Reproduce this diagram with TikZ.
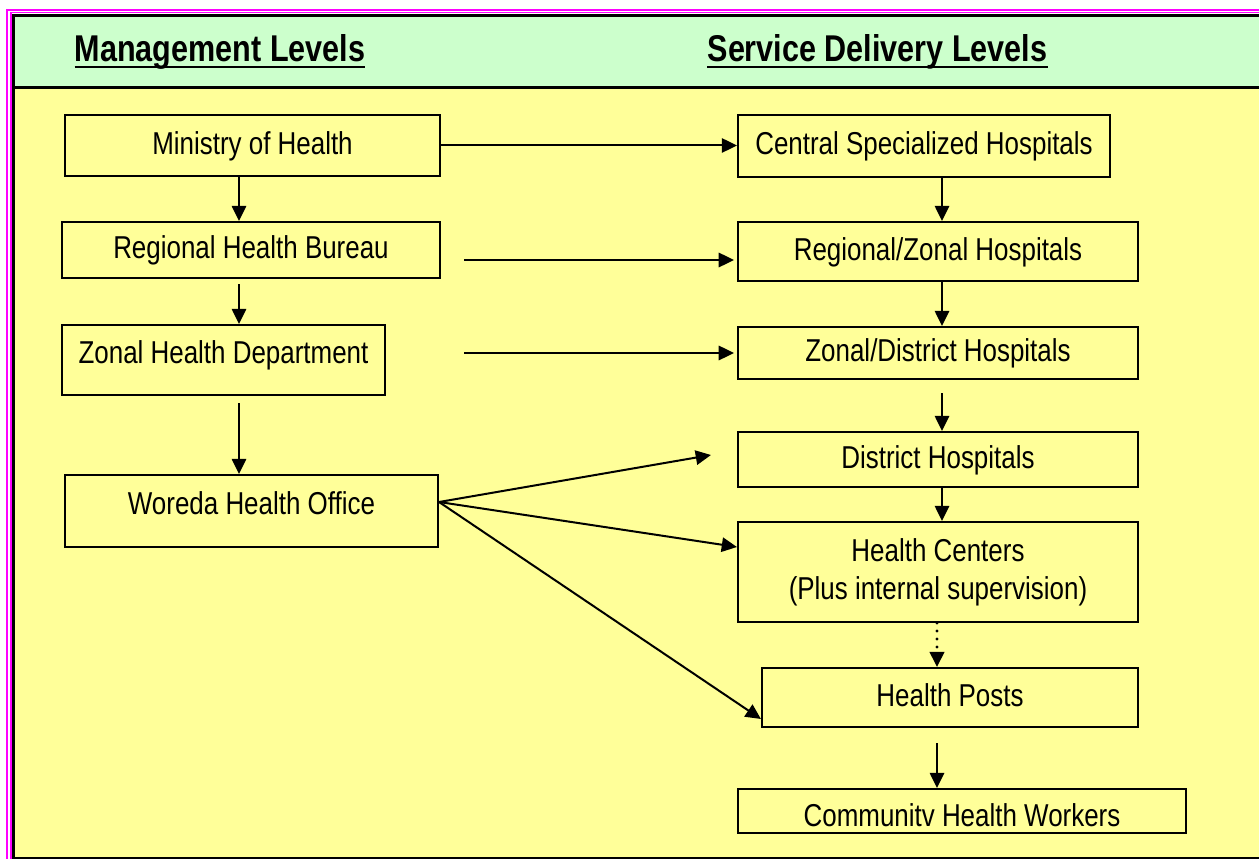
\documentclass[tikz,border=0pt]{standalone}
\usepackage{fontspec}
\usepackage{tikz}
\usetikzlibrary{arrows.meta}
\newfontfamily\narrow[FakeStretch=0.82]{Liberation Sans}
\definecolor{bandgreen}{HTML}{CCFFCC}
\definecolor{paleyellow}{HTML}{FFFF99}
\definecolor{framepink}{HTML}{FF00FF}

\begin{document}
\begin{tikzpicture}[x=0.025cm,y=-0.025cm,
	box/.style={draw,line width=0.05cm,inner sep=0pt,font=\narrow\fontsize{22.5}{27}\selectfont,text height=0.565cm,text depth=0.125cm},
	head/.style={inner sep=0pt,anchor=base,font=\narrow\bfseries\fontsize{26.5}{32}\selectfont},
	arr/.style={line width=0.05cm,-{Triangle[length=0.38cm,width=0.36cm]}}]
	\useasboundingbox (0,0) rectangle (1259,859);
	\clip (0,0) rectangle (1259,859);
	\fill[white] (0,0) rectangle (1259,859);
	
	% frame and header band
	\fill[paleyellow] (13.5,15.5) rectangle (1290,858);
	\fill[bandgreen] (13.5,15.5) rectangle (1290,88);
	\draw[framepink,line width=0.065cm] (7,10) rectangle (1300,900);
	\draw[framepink,line width=0.035cm] (11,12.5) rectangle (1300,900);
	\draw[line width=0.075cm] (13.5,15.5) rectangle (1290,858);
	\draw[line width=0.075cm] (13.5,88) -- (1290,88);
	
	\node[head] (mgtlev) at (220,61.7) {Management Levels};
	\node[head] (svclev) at (877.5,61.7) {Service Delivery Levels};
	\draw[line width=0.05cm] ([yshift=-0.125cm]mgtlev.base west) -- ([yshift=-0.125cm]mgtlev.base east);
	\draw[line width=0.05cm] ([yshift=-0.125cm]svclev.base west) -- ([yshift=-0.125cm]svclev.base east);
	
	% management side
	\node[box,minimum width=9.375cm,minimum height=1.525cm] (moh) at (252.5,145.5) {Ministry of Health};
	\node[box,minimum width=9.45cm,minimum height=1.4cm] (rhb) at (251,250) {Regional Health Bureau};
	\node[box,minimum width=8.075cm,minimum height=1.75cm,text depth=0.4cm] (zhd) at (223.5,360) {Zonal Health Department};
	\node[box,minimum width=9.325cm,minimum height=1.8cm,text depth=0.4cm] (who) at (251.5,511) {Woreda Health Office};
	
	% service side
	\node[box,minimum width=9.3cm,minimum height=1.55cm] (csh) at (924,146) {Central Specialized Hospitals};
	\node[box,minimum width=10cm,minimum height=1.475cm] (rzh) at (938,251.5) {Regional/Zonal Hospitals};
	\node[box,minimum width=10cm,minimum height=1.3cm] (zdh) at (938,353) {Zonal/District Hospitals};
	\node[box,minimum width=10cm,minimum height=1.375cm] (dh) at (938,459.5) {District Hospitals};
	\node[box,minimum width=10cm,minimum height=2.5cm,text height=,text depth=,align=center] (hc) at (938,572) {Health Centers\\(Plus internal supervision)};
	\node[box,minimum width=9.4cm,minimum height=1.475cm] (hp) at (950,697.5) {Health Posts};
	\node[box,minimum width=11.2cm,minimum height=1.1cm,text height=0.765cm,text depth=0cm] (chw) at (962,811) {Communitv Health Workers};
	
	\coordinate (lc) at (239,0);
	\coordinate (rc) at (942,0);
	\coordinate (rcd) at (937,0);
	\coordinate (fan) at ([yshift=0.225cm]who.east);
	
	\draw[arr] (moh.east) -- (moh.east -| csh.west);
	\draw[arr] (moh.south -| lc) -- (rhb.north -| lc);
	\draw[arr,shorten <=0.575cm,shorten >=0.075cm] ([yshift=-0.25cm]rhb.east) -- ([yshift=-0.25cm]rhb.east -| rzh.west);
	\draw[arr,shorten <=0.125cm] (rhb.south -| lc) -- (zhd.north -| lc);
	\draw[arr,shorten <=1.95cm,shorten >=0.075cm] (zhd.east |- zdh.west) -- (zdh.west);
	\draw[arr,shorten <=0.175cm] (zhd.south -| lc) -- (who.north -| lc);
	
	\draw[arr] (fan) -- ([shift={(-26,-4.5)}]dh.west);
	\draw[arr] (fan) -- ([shift={(0,-25)}]hc.west);
	\draw[arr] (fan) -- ([shift={(0,21.5)}]hp.west);
	
	\draw[arr] (csh.south -| rc) -- (rzh.north -| rc);
	\draw[arr] (rzh.south -| rc) -- (zdh.north -| rc);
	\draw[arr,shorten <=0.325cm] (zdh.south -| rc) -- (dh.north -| rc);
	\draw[arr] (dh.south -| rc) -- (hc.north -| rc);
	\draw[arr,line width=0.08cm,line cap=round,dash pattern=on 0cm off 0.2cm] (hc.south -| rcd) -- (hp.north -| rcd);
	\draw[arr,shorten <=0.375cm] (hp.south -| rcd) -- (chw.north -| rcd);
\end{tikzpicture}
\end{document}
